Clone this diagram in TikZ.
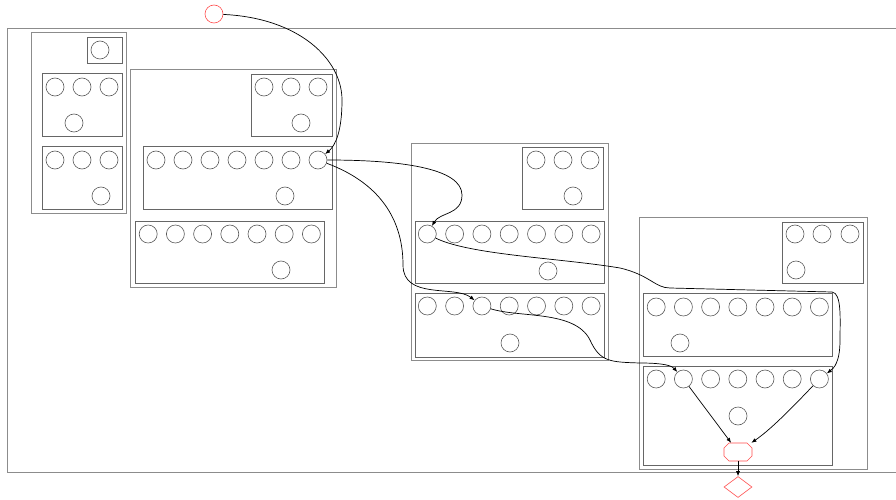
\documentclass[tikz,border=0pt]{standalone}
\usepackage{tikz}
\usetikzlibrary{arrows.meta, positioning, shapes.geometric}

\begin{document}
\begin{tikzpicture}[
x=1pt, y=-1pt,
dot/.style={circle, draw=black!65, line width=0.6pt, minimum size=18pt, inner sep=0pt},
reddot/.style={circle, draw=red!70, line width=0.6pt, minimum size=18pt, inner sep=0pt},
grp/.style={draw=black!60, line width=0.7pt},
clu/.style={draw=black!45, line width=1pt},
link/.style={-{Latex[length=5pt,width=4pt]}, line width=0.7pt}
]
\useasboundingbox (0,0) rectangle (896,500);

% outer frame
\draw[clu] (896,29) -- (7,29) -- (7,472) -- (896,472);

% cluster A
\draw[clu] (31,33) rectangle (126,213);
\draw[grp] (87,37) rectangle (122,63);
\node[dot] (a0) at (100,50) {};
\draw[grp] (42,73) rectangle (122,136);
\foreach \i/\x in {1/55,2/82,3/109} \node[dot] (ap\i) at (\x,87) {};
\node[dot] (ap4) at (74,123) {};
\draw[grp] (42,146) rectangle (122,209);
\foreach \i/\x in {1/55,2/82,3/109} \node[dot] (aq\i) at (\x,160) {};
\node[dot] (aq4) at (101,196) {};

% cluster B
\draw[clu] (130,70) rectangle (336,287);
\draw[grp] (251,74) rectangle (332,136);
\foreach \i/\x in {1/264,2/291,3/318} \node[dot] (bp\i) at (\x,87) {};
\node[dot] (bp4) at (301,123) {};
\draw[grp] (143,146) rectangle (332,209);
\foreach \i in {1,...,7} \node[dot] (bq\i) at (129+27*\i,160) {};
\node[dot] (bq8) at (285,196) {};
\draw[grp] (135,221) rectangle (324,283);
\foreach \i in {1,...,7} \node[dot] (br\i) at (121+27.2*\i,234) {};
\node[dot] (br8) at (281,270) {};

% cluster C
\draw[clu] (411,143) rectangle (608,360);
\draw[grp] (522,147) rectangle (603,209);
\foreach \i/\x in {1/536,2/563,3/590} \node[dot] (cp\i) at (\x,160) {};
\node[dot] (cp4) at (573,196) {};
\draw[grp] (415,221) rectangle (604,283);
\foreach \i in {1,...,7} \node[dot] (cq\i) at (400+27.3*\i,234) {};
\node[dot] (cq8) at (548,271) {};
\draw[grp] (415,293) rectangle (604,357);
\foreach \i in {1,...,7} \node[dot] (cr\i) at (400+27.3*\i,306) {};
\node[dot] (cr8) at (510,343) {};

% cluster D
\draw[clu] (639,217) rectangle (867,469);
\draw[grp] (782,222) rectangle (863,283);
\foreach \i/\x in {1/795,2/822,3/850} \node[dot] (dp\i) at (\x,234) {};
\node[dot] (dp4) at (796,270) {};
\draw[grp] (643,293) rectangle (832,356);
\foreach \i in {1,...,7} \node[dot] (dq\i) at (629+27.2*\i,307) {};
\node[dot] (dq8) at (680,343) {};
\draw[grp] (643,366) rectangle (832,465);
\foreach \i in {1,...,7} \node[dot] (dr\i) at (629+27.2*\i,379) {};
\node[dot] (dr8) at (738,416) {};

% entry and exit
\node[reddot] (src) at (214,14) {};
\node[minimum width=28pt, minimum height=18pt, inner sep=0pt] (sink) at (738,452) {};
\draw[red!70, line width=0.6pt] (729,443) -- (747,443) -- (752,448) -- (752,456) -- (747,461)
  -- (729,461) -- (724,456) -- (724,448) -- cycle;
\node[diamond, draw=red!70, line width=0.6pt, minimum width=28pt, minimum height=21pt, inner sep=0pt, aspect=1.4] (stop) at (738,487) {};

% edges
\draw[link] (src) .. controls (300,18) and (342,60) .. (342,100) .. controls (342,130) and (336,145) .. (bq7);
\draw[link] (bq7) .. controls (400,160) and (462,168) .. (462,195) .. controls (462,215) and (440,212) .. (cq1);
\draw[link] (bq7) .. controls (385,185) and (403,225) .. (403,265) .. controls (403,300) and (455,285) .. (cr3);
\draw[link] (cq1) .. controls (470,255) and (560,258) .. (620,268) .. controls (650,275) and (655,288) .. (670,288)
  -- (832,292) .. controls (842,293) and (840,320) .. (840,340) .. controls (840,362) and (834,368) .. (dr7);
\draw[link] (cr3) .. controls (520,318) and (575,310) .. (590,340) .. controls (600,362) and (610,362) .. (640,363)
  .. controls (665,363) and (672,366) .. (dr2);
\draw[link] (dr2) -- (sink);
\draw[link] (dr7) .. controls (790,410) and (770,430) .. (sink);
\draw[link] (sink) -- (stop);

\end{tikzpicture}
\end{document}
